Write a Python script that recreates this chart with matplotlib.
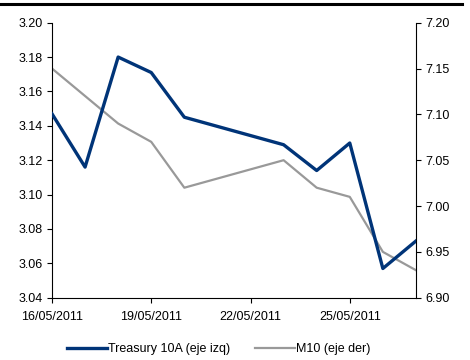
import numpy as np
import pandas as pd
import matplotlib
matplotlib.use("Agg")
import matplotlib.pyplot as plt
import matplotlib.dates as mdates
from matplotlib.lines import Line2D

plt.rcParams['font.family'] = ['Liberation Sans', 'DejaVu Sans']

# daily closes, business days only
dates = pd.to_datetime(["16/05/2011", "17/05/2011", "18/05/2011", "19/05/2011", "20/05/2011",
                        "23/05/2011", "24/05/2011", "25/05/2011", "26/05/2011", "27/05/2011"],
                       dayfirst=True)
treasury_10a = [3.147, 3.116, 3.180, 3.171, 3.145, 3.129, 3.114, 3.130, 3.057, 3.073]
m10 = [7.15, 7.12, 7.09, 7.07, 7.02, 7.05, 7.02, 7.01, 6.95, 6.93]

label_left = "Treasury 10A (eje izq)"
label_right = "M10 (eje der)"
navy = "#003478"
grey = "#999999"

fig = plt.figure(figsize=(4.7, 3.6), dpi=100)
ax = fig.add_axes([0.1106, 0.173, 0.7744, 0.764])
ax2 = ax.twinx()

l1, = ax.plot(dates, treasury_10a, color=navy, lw=2.4, label=label_left, zorder=3)
l2, = ax2.plot(dates, m10, color=grey, lw=1.6, label=label_right)
ax.set_zorder(ax2.get_zorder() + 1)
ax.patch.set_visible(False)

ax.set_ylim(3.04, 3.20)
ax.set_yticks(np.arange(3.04, 3.2001, 0.02))
ax.yaxis.set_major_formatter(plt.FormatStrFormatter('%.2f'))
ax2.set_ylim(6.90, 7.20)
ax2.set_yticks(np.arange(6.90, 7.2001, 0.05))
ax2.yaxis.set_major_formatter(plt.FormatStrFormatter('%.2f'))

ax.set_xlim(dates[0], dates[-1])
ax.xaxis.set_major_locator(mdates.DayLocator(bymonthday=[16, 19, 22, 25]))
ax.xaxis.set_major_formatter(mdates.DateFormatter('%d/%m/%Y'))

for a in (ax, ax2):
    a.spines['top'].set_visible(False)
    a.tick_params(labelsize=9, length=3.5, width=0.8, colors='black', pad=3)
ax.spines['right'].set_visible(False)
ax2.spines['left'].set_visible(False)
ax2.spines['bottom'].set_visible(False)
ax.tick_params(axis='x', pad=6)

fig.legend(handles=[l1, l2], loc='center', bbox_to_anchor=(0.465, 0.03), ncol=2,
           frameon=False, fontsize=9, handlelength=3.2, handletextpad=0.1, columnspacing=2.0)

# rule across the top of the figure
fig.add_artist(Line2D([0.0, 0.983], [0.99, 0.99], color='black', lw=2.2))

fig.savefig("out.png", dpi=100)
